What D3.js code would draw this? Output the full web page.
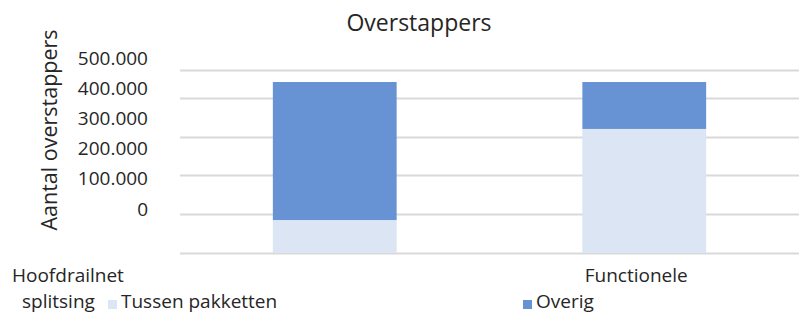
<!DOCTYPE html>
<html lang="nl">
  <head>
    <meta charset="utf-8" />
    <title>Overstappers</title>
    <style>
      body {
        margin: 0;
        background: #fff;
        font-family: 'Open Sans', sans-serif;
      }
      text {
        fill: #262626;
      }
    </style>
    <script src="https://d3js.org/d3.v7.min.js"></script>
  </head>

  <body>
    <svg width="799" height="315"></svg>

    <script>
      // data
      const categories = ['Hoofdrailnet splitsing', 'Functionele splitsing'];
      const seriesNames = ['Tussen pakketten', 'Overig'];
      const tussenPakketten = [85000, 320000];
      const overig = [356000, 121000];
      const tickValues = [0, 100000, 200000, 300000, 400000, 500000];
      const colors = ['#dce5f4', '#6793d4'];

      const svg = d3.select('svg');
      const width = 799;

      const x = d3
        .scaleBand()
        .domain(categories)
        .range([180, width])
        .paddingInner(0.6)
        .paddingOuter(0.3);

      const y = d3.scaleLinear().domain([0, 472000]).range([253, 70]);

      // tick labels sit on their own (compressed) scale, as in the original
      const yLabel = d3.scaleLinear().domain([0, 500000]).range([215, 64]);

      // gridlines
      const grid = tickValues.filter((v) => v < 472000).concat([472000]);
      svg
        .append('g')
        .selectAll('line')
        .data(grid)
        .enter()
        .append('line')
        .attr('x1', 180)
        .attr('x2', width)
        .attr('y1', (d) => Math.round(y(d)) + 0.5)
        .attr('y2', (d) => Math.round(y(d)) + 0.5)
        .attr('stroke', '#d9d9d9')
        .attr('stroke-width', 2);

      // stacked bars
      const rows = categories.map((c, i) => ({
        cat: c,
        'Tussen pakketten': tussenPakketten[i],
        Overig: overig[i],
      }));
      const stack = d3.stack().keys(seriesNames)(rows);

      svg
        .append('g')
        .selectAll('g')
        .data(stack)
        .enter()
        .append('g')
        .attr('fill', (d, i) => colors[i])
        .selectAll('rect')
        .data((d) => d)
        .enter()
        .append('rect')
        .attr('x', (d) => x(d.data.cat))
        .attr('width', x.bandwidth())
        .attr('y', (d) => y(d[1]))
        .attr('height', (d) => y(d[0]) - y(d[1]));

      // y tick labels
      const axis = d3
        .axisLeft(yLabel)
        .tickValues(tickValues)
        .tickSize(0)
        .tickPadding(0)
        .tickFormat((d) => (d === 0 ? '0' : d3.format(',')(d).replace(/,/g, '.')));
      const ag = svg
        .append('g')
        .attr('transform', 'translate(148,0)')
        .call(axis);
      ag.select('.domain').remove();
      ag.selectAll('text')
        .attr('dy', 0)
        .style('font-family', "'Open Sans', sans-serif")
        .style('font-size', '19px')
        .style('fill', '#262626');

      // axis title
      svg
        .append('text')
        .attr('transform', 'translate(57,130) rotate(-90)')
        .attr('text-anchor', 'middle')
        .style('font-size', '21.5px')
        .text('Aantal overstappers');

      // title
      svg
        .append('text')
        .attr('x', 419)
        .attr('y', 31)
        .attr('text-anchor', 'middle')
        .style('font-size', '23px')
        .text('Overstappers');

      // category labels (wrapped, as rendered in the source)
      svg
        .append('text')
        .attr('x', 12)
        .attr('y', 282)
        .style('font-size', '19px')
        .text(categories[0].split(' ')[0]);
      svg
        .append('text')
        .attr('x', 22)
        .attr('y', 308)
        .style('font-size', '19px')
        .text(categories[0].split(' ')[1]);
      svg
        .append('text')
        .attr('x', x(categories[1]) + x.bandwidth() / 2 - 8)
        .attr('y', 282)
        .attr('text-anchor', 'middle')
        .style('font-size', '19px')
        .text(categories[1].split(' ')[0]);

      // legend
      const legendX = [108, 523];
      const lg = svg
        .append('g')
        .selectAll('g')
        .data(seriesNames)
        .enter()
        .append('g')
        .attr('transform', (d, i) => `translate(${legendX[i]},0)`);
      lg.append('rect')
        .attr('y', 300)
        .attr('width', 9)
        .attr('height', 9)
        .attr('fill', (d, i) => colors[i]);
      lg.append('text')
        .attr('x', 13)
        .attr('y', 308)
        .style('font-size', '19px')
        .text((d) => d);
    </script>
  </body>
</html>
